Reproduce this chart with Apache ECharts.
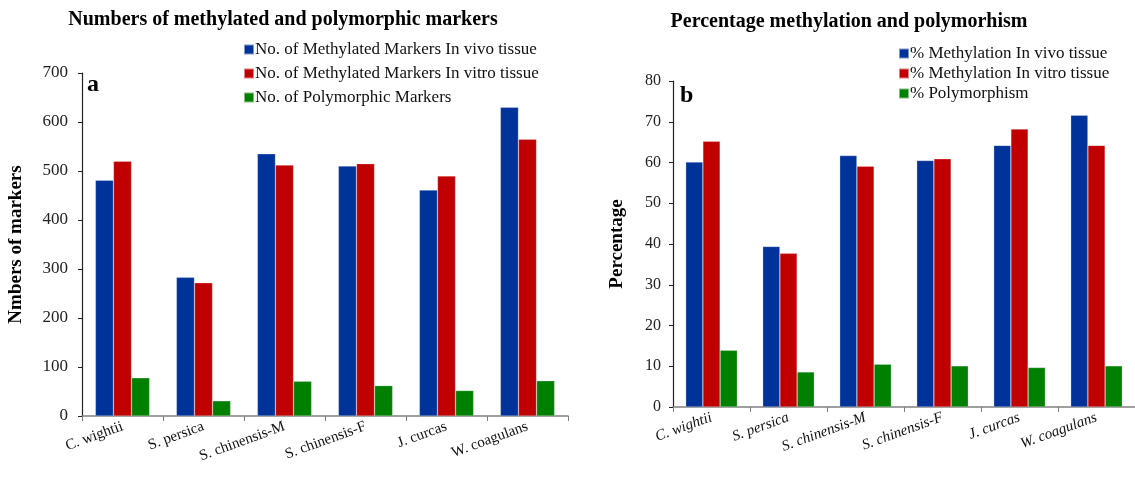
<!DOCTYPE html>
<html><head><meta charset="utf-8">
<script src="https://cdn.jsdelivr.net/npm/echarts@6/dist/echarts.min.js"></script>
<style>html,body{margin:0;padding:0;background:#fff}#c{width:1135px;height:477px}</style>
</head><body><div id="c"></div>
<script>
const categories = ['C. wightii','S. persica','S. chinensis-M','S. chinensis-F','J. curcas','W. coagulans'];
const vivoMarkers = [481, 283, 535, 510, 461, 630];
const vitroMarkers = [520, 272, 512, 515, 490, 565];
const polyMarkers = [78, 31, 71, 62, 52, 72];
const vivoPct = [60.1, 39.4, 61.7, 60.5, 64.2, 71.6];
const vitroPct = [65.2, 37.7, 59.1, 60.9, 68.2, 64.2];
const polyPct = [13.9, 8.6, 10.5, 10.1, 9.7, 10.1];
const leftTicks = [0,100,200,300,400,500,600,700];
const rightTicks = [0,10,20,30,40,50,60,70,80];

const F = 'Liberation Serif, Times New Roman, serif';
const BLUE='#003399', RED='#C00000', GREEN='#008000';
const chart = echarts.init(document.getElementById('c'));
function bar(name, data, color, idx){
  return {name, type:'bar', data, xAxisIndex:idx, yAxisIndex:idx, barGap:'0%', barCategoryGap:'33%',
    itemStyle:{color, borderColor:'rgba(255,255,255,0.5)', borderWidth:0.5}, silent:true};
}
const xCommon = (italic) => ({type:'category', data:categories,
  axisLine:{lineStyle:{color:'#808080', width:1.5}},
  axisTick:{show:true, alignWithLabel:false, length:5, lineStyle:{color:'#808080'}},
  axisLabel:{rotate:20, fontFamily:F, fontSize:15, color:'#111', fontStyle: italic?'italic':'normal', margin:10, interval:0}
});
const yCommon = (max, interval, name, gap, margin, ticks, fs) => ({type:'value', min:0, max, interval,
  name, nameLocation:'middle', nameGap:gap, nameRotate:90,
  nameTextStyle:{fontFamily:F, fontSize:19, fontWeight:'bold', color:'#000'},
  axisLine:{show:true, lineStyle:{color:'#222', width:1.2}},
  axisTick:{show:true, length:4, lineStyle:{color:'#222'}},
  splitLine:{show:false},
  axisLabel:{fontFamily:F, fontSize:fs, color:'#222', margin, formatter: v => ticks.includes(v) ? String(v) : ''}
});
chart.setOption({
  animation:false,
  title:[
    {text:'Numbers of methylated and polymorphic markers', left:278, top:5, textAlign:'center',
      textStyle:{fontFamily:F, fontSize:20, fontWeight:'bold', color:'#000'}},
    {text:'Percentage methylation and polymorhism', left:844, top:7, textAlign:'center',
      textStyle:{fontFamily:F, fontSize:20, fontWeight:'bold', color:'#000'}},
    {text:'a', left:82, top:68, textStyle:{fontFamily:F, fontSize:24, fontWeight:'bold', color:'#000'}},
    {text:'b', left:675, top:79, textStyle:{fontFamily:F, fontSize:24, fontWeight:'bold', color:'#000'}}
  ],
  legend:[
    {data:['No. of Methylated Markers In vivo tissue','No. of Methylated Markers In vitro tissue','No. of Polymorphic Markers'],
      orient:'vertical', left:238, top:36, icon:'rect', itemWidth:10, itemHeight:10, itemGap:7,
      textStyle:{fontFamily:F, fontSize:17, color:'#111', padding:[0,0,0,-4]}},
    {data:['% Methylation In vivo tissue','% Methylation In vitro tissue','% Polymorphism'],
      orient:'vertical', left:893, top:40, icon:'rect', itemWidth:10, itemHeight:10, itemGap:3,
      textStyle:{fontFamily:F, fontSize:17, color:'#111', padding:[0,0,0,-4]}}
  ],
  grid:[
    {left:82, right:567, top:73, bottom:61},
    {left:673, right:-7, top:81, bottom:70}
  ],
  xAxis:[Object.assign(xCommon(false),{gridIndex:0}), Object.assign(xCommon(true),{gridIndex:1})],
  yAxis:[Object.assign(yCommon(700,100,'Nmbers of markers',56,14,leftTicks,17),{gridIndex:0}),
         Object.assign(yCommon(80,10,'Percentage',46,12,rightTicks,16),{gridIndex:1})],
  series:[
    bar('No. of Methylated Markers In vivo tissue', vivoMarkers, BLUE, 0),
    bar('No. of Methylated Markers In vitro tissue', vitroMarkers, RED, 0),
    bar('No. of Polymorphic Markers', polyMarkers, GREEN, 0),
    bar('% Methylation In vivo tissue', vivoPct, BLUE, 1),
    bar('% Methylation In vitro tissue', vitroPct, RED, 1),
    bar('% Polymorphism', polyPct, GREEN, 1)
  ]
});
</script></body></html>
